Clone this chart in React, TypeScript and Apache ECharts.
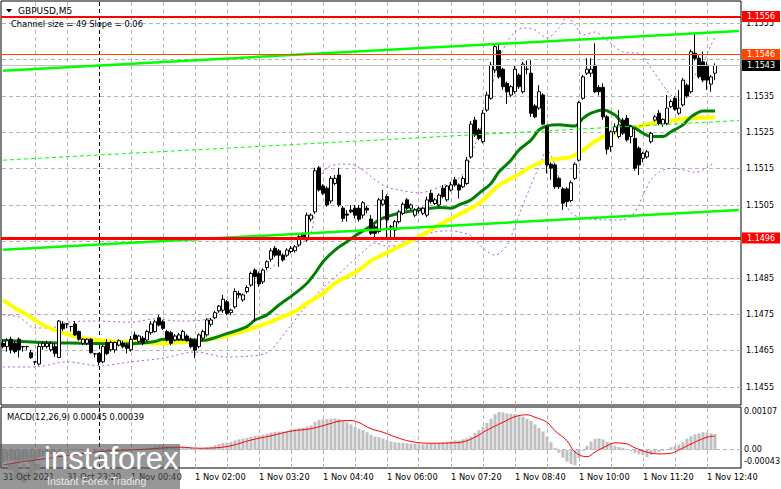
import React, { useEffect, useRef } from 'react';
import * as echarts from 'echarts';

const FONT = 'DejaVu Sans';
const N = 185; // category slots (candles + empty space to the right edge)
const PLOT_LEFT = 1;
const PLOT_RIGHT = 741;
const MAIN_TOP = 1;
const MAIN_BOTTOM = 405;
const MACD_TOP = 407;
const MACD_BOTTOM = 468;

const timeLabels = ['31 Oct 2021', '31 Oct 23:20', '1 Nov 00:40', '1 Nov 02:00', '1 Nov 03:20', '1 Nov 04:40', '1 Nov 06:00', '1 Nov 07:20', '1 Nov 08:40', '1 Nov 10:00', '1 Nov 11:20', '1 Nov 12:40'];
const LABEL_EVERY = 16;
const GRID_EVERY = 8;
const daySeparatorIndex = 24;

const priceTicks = [1.1455, 1.1465, 1.1475, 1.1485, 1.1495, 1.1505, 1.1515, 1.1525, 1.1535, 1.1545, 1.1555];
const priceTickLabels = ['1.1455', '1.1465', '1.1475', '1.1485', '1.1495', '1.1505', '1.1515', '1.1525', '1.1535', '1.1545', '1.1555'];

// [open, high, low, close]
const ohlc: number[][] = [
  [1.14671, 1.14682, 1.14657, 1.14662], [1.14662, 1.14685, 1.14648, 1.14678], [1.14682, 1.14689, 1.14643, 1.14653], [1.14671, 1.14678, 1.14643, 1.14648], [1.14682, 1.14687, 1.14632, 1.14653],
  [1.14662, 1.14664, 1.14648, 1.14661], [1.14662, 1.14664, 1.14653, 1.14662], [1.14645, 1.14653, 1.14628, 1.14632], [1.1462, 1.14622, 1.14611, 1.1462], [1.14614, 1.14671, 1.1461, 1.14662],
  [1.14662, 1.14676, 1.14653, 1.14671], [1.14662, 1.14678, 1.14657, 1.14671], [1.14653, 1.14676, 1.14648, 1.14671], [1.14662, 1.14671, 1.14634, 1.14643], [1.14632, 1.14735, 1.1463, 1.14732],
  [1.14724, 1.14732, 1.14705, 1.14711], [1.14724, 1.14726, 1.14712, 1.14724], [1.14717, 1.14719, 1.14703, 1.14717], [1.14724, 1.14732, 1.14691, 1.14694], [1.14703, 1.14706, 1.14678, 1.14682],
  [1.14671, 1.14685, 1.14666, 1.14682], [1.14671, 1.14685, 1.14666, 1.14682], [1.14682, 1.14685, 1.14643, 1.14645], [1.14642, 1.14644, 1.14632, 1.14642], [1.14643, 1.14645, 1.14611, 1.1462],
  [1.1462, 1.14666, 1.14616, 1.14662], [1.14673, 1.14682, 1.14638, 1.14643], [1.14653, 1.14678, 1.14648, 1.14673], [1.14653, 1.14676, 1.14645, 1.14673], [1.14666, 1.14682, 1.14662, 1.14678],
  [1.14671, 1.14678, 1.14657, 1.14662], [1.14666, 1.14671, 1.14643, 1.14657], [1.14653, 1.14691, 1.14648, 1.14682], [1.14694, 1.14703, 1.1468, 1.14682], [1.14676, 1.14694, 1.14671, 1.14691],
  [1.14685, 1.14691, 1.14666, 1.14671], [1.1468, 1.14708, 1.14676, 1.14703], [1.147, 1.14732, 1.14694, 1.14724], [1.14703, 1.14735, 1.147, 1.1473], [1.14741, 1.14748, 1.14717, 1.14721],
  [1.1473, 1.14735, 1.14708, 1.14712], [1.14703, 1.14708, 1.14676, 1.1468], [1.147, 1.14705, 1.14666, 1.14671], [1.1468, 1.14696, 1.14676, 1.14691], [1.14682, 1.14699, 1.14678, 1.14694],
  [1.14682, 1.14708, 1.14678, 1.14703], [1.14691, 1.14696, 1.14676, 1.14678], [1.14682, 1.14687, 1.14657, 1.14662], [1.1468, 1.14685, 1.1463, 1.14652], [1.14662, 1.14698, 1.14657, 1.14694],
  [1.14685, 1.14708, 1.14676, 1.14703], [1.14694, 1.1474, 1.14689, 1.14735], [1.14723, 1.14741, 1.14717, 1.14735], [1.14741, 1.1476, 1.14737, 1.14755], [1.1476, 1.14776, 1.14755, 1.14773],
  [1.14762, 1.14804, 1.14755, 1.14792], [1.14785, 1.1479, 1.14748, 1.14753], [1.14755, 1.14766, 1.14748, 1.14762], [1.14771, 1.14822, 1.14766, 1.14813], [1.14808, 1.14815, 1.14795, 1.14804],
  [1.1479, 1.14808, 1.14785, 1.14804], [1.14813, 1.1483, 1.14808, 1.14824], [1.14831, 1.14868, 1.14826, 1.14863], [1.14872, 1.14877, 1.1473, 1.14854], [1.14863, 1.14868, 1.14826, 1.14834],
  [1.1484, 1.14877, 1.14834, 1.14872], [1.14879, 1.14899, 1.14872, 1.14895], [1.14902, 1.14932, 1.14895, 1.14925], [1.14932, 1.14938, 1.14908, 1.14913], [1.14925, 1.1493, 1.14881, 1.14913],
  [1.14913, 1.14918, 1.14895, 1.149], [1.14913, 1.14932, 1.14908, 1.14927], [1.14923, 1.14938, 1.14918, 1.14932], [1.14925, 1.14941, 1.1492, 1.14936], [1.14941, 1.14968, 1.14936, 1.14964],
  [1.14971, 1.14975, 1.14955, 1.14959], [1.14955, 1.1503, 1.1495, 1.15023], [1.15012, 1.15028, 1.15005, 1.15023], [1.15032, 1.15153, 1.15026, 1.15145], [1.15153, 1.15158, 1.15088, 1.15092],
  [1.15103, 1.15108, 1.15078, 1.15083], [1.15097, 1.15102, 1.15046, 1.15051], [1.15062, 1.1513, 1.15055, 1.15124], [1.1511, 1.15133, 1.15105, 1.15124], [1.15133, 1.15153, 1.15046, 1.15051],
  [1.15042, 1.15048, 1.15005, 1.15014], [1.15026, 1.15037, 1.15005, 1.15023], [1.15037, 1.15051, 1.15028, 1.15032], [1.15042, 1.15051, 1.15014, 1.15023], [1.15042, 1.15051, 1.15005, 1.15012],
  [1.15023, 1.15062, 1.15014, 1.15057], [1.15042, 1.15048, 1.15028, 1.15037], [1.15012, 1.15023, 1.14968, 1.14973], [1.14991, 1.14996, 1.14959, 1.14973], [1.14978, 1.1507, 1.14973, 1.15065],
  [1.15053, 1.15092, 1.15048, 1.15065], [1.15074, 1.1508, 1.14959, 1.1501], [1.14991, 1.14996, 1.14955, 1.14991], [1.14982, 1.1501, 1.14955, 1.15005], [1.15005, 1.15037, 1.15, 1.15032],
  [1.15028, 1.15058, 1.15023, 1.15053], [1.15065, 1.1507, 1.15037, 1.15042], [1.15042, 1.15055, 1.15037, 1.15051], [1.15023, 1.15042, 1.15018, 1.15037], [1.15037, 1.15046, 1.15028, 1.15042],
  [1.15028, 1.15046, 1.15023, 1.15042], [1.15023, 1.15074, 1.15018, 1.15065], [1.15083, 1.15092, 1.15055, 1.1506], [1.15055, 1.1507, 1.15051, 1.15065], [1.15051, 1.15083, 1.15046, 1.15078],
  [1.15097, 1.15106, 1.15069, 1.15074], [1.15065, 1.15106, 1.1506, 1.15103], [1.15092, 1.15115, 1.15088, 1.15106], [1.1512, 1.15128, 1.15101, 1.15106], [1.15106, 1.1511, 1.15069, 1.15092],
  [1.15101, 1.1513, 1.15097, 1.15124], [1.1511, 1.15183, 1.15106, 1.15174], [1.15183, 1.15282, 1.15178, 1.15273], [1.15284, 1.15293, 1.15238, 1.15243], [1.15257, 1.15262, 1.15229, 1.15234],
  [1.15225, 1.15312, 1.1522, 1.15303], [1.15312, 1.15362, 1.15307, 1.15353], [1.15344, 1.15444, 1.1534, 1.15435], [1.15422, 1.15495, 1.15413, 1.15486], [1.15475, 1.15495, 1.15398, 1.15403],
  [1.15424, 1.15428, 1.15367, 1.15376], [1.15385, 1.1539, 1.15328, 1.15362], [1.15353, 1.1538, 1.15348, 1.15376], [1.15362, 1.15435, 1.15357, 1.15424], [1.15408, 1.15413, 1.1537, 1.15376],
  [1.15362, 1.15444, 1.15357, 1.15438], [1.15424, 1.15448, 1.1541, 1.15424], [1.15413, 1.15448, 1.15293, 1.15303], [1.15323, 1.15328, 1.15289, 1.15293], [1.15317, 1.1538, 1.15312, 1.15362],
  [1.15353, 1.15358, 1.1527, 1.15273], [1.15266, 1.1527, 1.15138, 1.15161], [1.15163, 1.15168, 1.1512, 1.15152], [1.15161, 1.15166, 1.15095, 1.15101], [1.15124, 1.15128, 1.15095, 1.15101],
  [1.15095, 1.151, 1.15037, 1.15056], [1.15095, 1.151, 1.15045, 1.1506], [1.15063, 1.15118, 1.15058, 1.15112], [1.15124, 1.15168, 1.1512, 1.15163], [1.15174, 1.15337, 1.1517, 1.15332],
  [1.15344, 1.15408, 1.1534, 1.15403], [1.15413, 1.15454, 1.15408, 1.15424], [1.15413, 1.15454, 1.15403, 1.15424], [1.15435, 1.15495, 1.15358, 1.15362], [1.15374, 1.1538, 1.15352, 1.15362],
  [1.15374, 1.15385, 1.15285, 1.15293], [1.15293, 1.15298, 1.1519, 1.15204], [1.15211, 1.15256, 1.15197, 1.15252], [1.15252, 1.15275, 1.15245, 1.15266], [1.15239, 1.15312, 1.15234, 1.15271],
  [1.15284, 1.1529, 1.15243, 1.15248], [1.15289, 1.15298, 1.15225, 1.1523], [1.15239, 1.1527, 1.1522, 1.15266], [1.15234, 1.15262, 1.15145, 1.15152], [1.15207, 1.15212, 1.15133, 1.15161],
  [1.15179, 1.15197, 1.15168, 1.15193], [1.15183, 1.15202, 1.15178, 1.15197], [1.15225, 1.15252, 1.1522, 1.15248], [1.15284, 1.15298, 1.1528, 1.15293], [1.15303, 1.15312, 1.1527, 1.15275],
  [1.15273, 1.15289, 1.15266, 1.15286], [1.15275, 1.15353, 1.1527, 1.15317], [1.15321, 1.1534, 1.15317, 1.15335], [1.15344, 1.1535, 1.1531, 1.15314], [1.15303, 1.15367, 1.15298, 1.15317],
  [1.15326, 1.154, 1.15321, 1.15394], [1.1538, 1.15385, 1.15345, 1.1535], [1.15362, 1.15478, 1.15357, 1.15472], [1.15468, 1.15523, 1.15448, 1.15454], [1.15454, 1.15462, 1.15398, 1.15403],
  [1.15444, 1.15472, 1.15388, 1.15394], [1.15435, 1.15444, 1.15367, 1.15394], [1.15383, 1.15408, 1.15362, 1.15403], [1.15413, 1.1544, 1.15394, 1.15434],
];

// moving averages (sampled along the bars)
const fastMaIdx = [0, 10, 20, 30, 34, 38, 40, 44, 48, 50, 55, 61, 63, 66, 69, 73, 76, 78, 80, 83, 86, 89, 92, 94, 99, 104, 109, 112, 114, 117, 119, 122, 124, 127, 129, 132, 134, 136, 139, 143, 145, 147, 150, 153, 155, 158, 160, 162, 165, 167, 170, 172, 175, 178];
const fastMaVal = [1.14679, 1.14673, 1.14671, 1.14669, 1.14671, 1.14676, 1.14682, 1.14682, 1.1468, 1.14679, 1.14694, 1.14717, 1.14735, 1.14749, 1.14776, 1.14808, 1.14836, 1.14863, 1.14895, 1.14927, 1.1495, 1.14973, 1.14993, 1.1501, 1.15028, 1.15037, 1.15044, 1.15042, 1.15051, 1.15065, 1.15083, 1.1511, 1.15142, 1.15174, 1.15202, 1.15229, 1.15257, 1.15268, 1.15271, 1.15268, 1.15289, 1.15303, 1.15312, 1.15298, 1.15275, 1.15262, 1.15248, 1.15239, 1.15239, 1.15252, 1.15271, 1.15293, 1.15309, 1.15309];
const slowMaIdx = [0, 3, 6, 10, 14, 18, 22, 28, 34, 40, 46, 50, 55, 61, 66, 69, 73, 76, 80, 83, 86, 89, 92, 94, 99, 104, 109, 114, 119, 124, 129, 132, 136, 139, 142, 145, 149, 152, 155, 159, 162, 166, 169, 172, 178];
const slowMaVal = [1.1479, 1.14768, 1.14749, 1.14721, 1.14703, 1.1469, 1.14682, 1.14675, 1.14673, 1.14671, 1.14675, 1.1468, 1.14689, 1.14707, 1.14726, 1.1474, 1.14758, 1.14781, 1.14808, 1.14836, 1.14854, 1.14872, 1.14898, 1.14909, 1.14936, 1.14964, 1.14996, 1.15025, 1.15055, 1.15105, 1.15135, 1.15156, 1.15174, 1.15178, 1.15183, 1.15202, 1.15232, 1.15245, 1.15255, 1.15266, 1.15275, 1.1528, 1.15286, 1.15289, 1.15292];

// band lines (purple dotted)
const bandUpIdx = [0, 4, 8, 12, 16, 24, 32, 38, 44, 50, 55, 59, 63, 67, 71, 74, 77, 78, 79, 81, 84, 87, 90, 93, 96, 99, 104, 109, 114, 116, 118, 120, 122, 124, 126, 128, 130, 133, 136, 139, 141, 143, 145, 148, 151, 155, 159, 162, 165, 167, 169, 171, 173, 175, 177, 178];
const bandUpVal = [1.14749, 1.14743, 1.14713, 1.14713, 1.14729, 1.14732, 1.14729, 1.14738, 1.14732, 1.14735, 1.14762, 1.14798, 1.14837, 1.14878, 1.14913, 1.14941, 1.14974, 1.15051, 1.1512, 1.15152, 1.15163, 1.15163, 1.15147, 1.1512, 1.151, 1.15092, 1.15084, 1.151, 1.15125, 1.15152, 1.15216, 1.15284, 1.15367, 1.15449, 1.15499, 1.15526, 1.15537, 1.15532, 1.1551, 1.15537, 1.15567, 1.15545, 1.15518, 1.15526, 1.15504, 1.15471, 1.15468, 1.15427, 1.1538, 1.15353, 1.15339, 1.15375, 1.15408, 1.15441, 1.1549, 1.15512];
const bandLoIdx = [0, 8, 16, 24, 32, 40, 48, 56, 62, 65, 67, 71, 75, 80, 85, 90, 93, 96, 99, 102, 105, 108, 111, 114, 117, 120, 123, 126, 129, 132, 134, 136, 138, 140, 142, 145, 150, 155, 158, 160, 162, 164, 167, 170, 173, 175, 177, 178];
const bandLoVal = [1.14606, 1.14606, 1.1462, 1.14609, 1.1462, 1.1463, 1.14647, 1.14633, 1.14636, 1.14641, 1.14652, 1.14707, 1.14762, 1.14823, 1.14872, 1.14922, 1.14946, 1.14938, 1.14938, 1.14952, 1.14966, 1.14977, 1.1498, 1.14977, 1.14966, 1.14933, 1.14913, 1.14941, 1.15023, 1.15106, 1.15155, 1.15202, 1.15161, 1.15078, 1.15029, 1.15015, 1.1501, 1.1501, 1.15032, 1.15078, 1.1512, 1.15141, 1.15152, 1.15147, 1.15141, 1.15147, 1.15161, 1.15169];

// regression channel (end points)
const channelIdx = [0, 184];
const channelUpper = [1.1542, 1.15529];
const channelMid = [1.15174, 1.15283];
const channelLower = [1.14928, 1.15037];
const channelSlopeText = '0.06';

// horizontal levels (index 2 is the bid line)
const levelValues = [1.15569, 1.15464, 1.15434, 1.1496];
const levelLabels = ['1.1556', '1.1546', '1.1543', '1.1496'];
const levelLineColors = ['#ff0000', '#ff4500', 'rgba(0,0,0,0)', '#ff0000'];
const levelTagColors = ['#ff0000', '#ff4500', '#000000', '#ff0000'];
const levelWidths = [2, 1, 1, 3];
const bidLineColor = '#c0c0c0';

// MACD(12,26,9)
const macdHist = [
  -0.00035, -0.00032, -0.0003, -0.00028, -0.00027, -0.00025, -0.00023, -0.00023, -0.00024, -0.0002,
  -0.00017, -0.00014, -0.00012, -0.00011, -0.00004, -0.00001, 0.00001, 0.00003, 0.00003, 0.00002,
  0.00002, 0.00002, 0, -0.00002, -0.00004, -0.00003, -0.00004, -0.00003, -0.00002, -0.00001,
  -0.00001, -0.00002, 0, 0.00001, 0.00002, 0.00002, 0.00004, 0.00007, 0.0001, 0.00012,
  0.00012, 0.0001, 0.00008, 0.00008, 0.00008, 0.00009, 0.00008, 0.00006, 0.00004, 0.00003,
  0.00004, 0.00007, 0.00009, 0.00013, 0.00017, 0.0002, 0.00021, 0.00023, 0.00027, 0.0003,
  0.00032, 0.00034, 0.00037, 0.0004, 0.00041, 0.00043, 0.00046, 0.00049, 0.00051, 0.00052,
  0.00052, 0.00054, 0.00057, 0.00059, 0.00062, 0.00062, 0.00066, 0.00069, 0.00079, 0.00085,
  0.00086, 0.00087, 0.00088, 0.00089, 0.00087, 0.00082, 0.00078, 0.00072, 0.00066, 0.0006,
  0.00056, 0.0005, 0.00043, 0.00038, 0.00036, 0.00032, 0.00028, 0.00024, 0.00022, 0.00021,
  0.0002, 0.00019, 0.00018, 0.00017, 0.00016, 0.00016, 0.00017, 0.00018, 0.00018, 0.0002,
  0.00021, 0.00023, 0.00025, 0.00027, 0.00027, 0.0003, 0.00033, 0.00038, 0.00048, 0.00056,
  0.00065, 0.00076, 0.00088, 0.00101, 0.00107, 0.00106, 0.00103, 0.00102, 0.00101, 0.00097,
  0.00094, 0.00088, 0.00082, 0.00072, 0.00062, 0.00052, 0.00038, 0.00022, 0.00006, -0.00008,
  -0.00022, -0.00033, -0.0004, -0.00043, -0.00022, -0.00002, 0.00012, 0.00024, 0.00031, 0.00033,
  0.0003, 0.00023, 0.00018, 0.00012, 0.00008, 0.00006, 0.00003, -0.00003, -0.00008, -0.00012,
  -0.00015, -0.0002, -0.00014, -0.00008, -0.00005, -0.00002, 0.00003, 0.00008, 0.00011, 0.00015,
  0.00022, 0.00032, 0.00039, 0.00044, 0.00047, 0.0005, 0.00049, 0.00047, 0.00045,
];
const signalIdx = [0, 7, 24, 37, 44, 49, 53, 57, 62, 67, 72, 77, 82, 84, 87, 89, 92, 95, 98, 102, 107, 112, 115, 118, 121, 125, 128, 131, 133, 136, 138, 141, 143, 146, 148, 151, 153, 156, 158, 161, 164, 167, 169, 172, 176, 178];
const signalVal = [-0.00042, -0.0003, -0.00005, 0.00003, 0.00008, 0.00005, 0.00006, 0.00012, 0.00028, 0.0004, 0.00053, 0.0006, 0.00075, 0.00081, 0.00083, 0.00077, 0.0006, 0.0005, 0.00037, 0.00024, 0.00019, 0.0002, 0.00023, 0.00036, 0.00056, 0.00078, 0.00094, 0.00099, 0.00092, 0.00078, 0.00054, 0.00026, -0.00006, -0.00019, -0.00006, 0.00012, 0.0002, 0.00017, 0.00006, -0.00006, -0.00011, -0.00009, 0, 0.00017, 0.00036, 0.00039];
const macdAxisValues = [0.00107, 0, -0.00043];
const macdAxisLabels = ['0.00107', '0.00', '-0.00043'];

const CLEAR = 'rgba(0,0,0,0)';
const GRID_COLOR = '#b4b4b4';
const DASH_ON = 4;
const DASH_OFF = 3;

function sparse(idx: number[], vals: number[]) {
  const a: (number | null)[] = new Array(N).fill(null);
  idx.forEach((k, j) => { a[k] = vals[j]; });
  return a;
}

function buildOption(): any {
  const categories = Array.from({ length: N }, (_, i) => String(i));
  const nulls = new Array(N).fill(null);

  const priceLabelItems = priceTicks
    .map((v, k) => ({ v, k }))
    .filter(({ v }) => levelValues.every((lv) => Math.abs(lv - v) > 0.00015))
    .map(({ v, k }) => ({
      yAxis: v,
      lineStyle: { color: CLEAR, width: 1 },
      label: { show: true, position: 'end', formatter: priceTickLabels[k], color: '#000', fontSize: 8, fontFamily: FONT, distance: 5 },
    }));

  const levels = levelValues.map((v, k) => ({
    yAxis: v,
    lineStyle: { color: levelLineColors[k], type: 'solid', width: levelWidths[k] },
    label: {
      show: true, position: 'end', formatter: levelLabels[k], color: '#fff', fontSize: 8, fontFamily: FONT,
      backgroundColor: levelTagColors[k], padding: [2, 5, 1, 5], distance: 1,
    },
  }));

  const macdLabels = macdAxisValues.map((v, k) => ({
    yAxis: v,
    lineStyle: { color: CLEAR, width: 1 },
    label: { show: true, position: 'end', formatter: macdAxisLabels[k], color: '#000', fontSize: 8, fontFamily: FONT, distance: 3, offset: v < 0 ? [0, -4] : [0, 0] },
  }));

  const lineBase = { type: 'line', showSymbol: false, symbol: 'none', connectNulls: true, silent: true, xAxisIndex: 0, yAxisIndex: 0 };
  const ml = (z: number, data: any[]) => ({ silent: true, z, precision: 8, symbol: ['none', 'none'], animation: false, data });

  return {
    animation: false,
    backgroundColor: '#ffffff',
    textStyle: { fontFamily: FONT },
    grid: [
      { left: PLOT_LEFT, top: MAIN_TOP, width: PLOT_RIGHT - PLOT_LEFT, height: MAIN_BOTTOM - MAIN_TOP, show: true, borderColor: '#000', borderWidth: 1, backgroundColor: CLEAR },
      { left: PLOT_LEFT, top: MACD_TOP, width: PLOT_RIGHT - PLOT_LEFT, height: MACD_BOTTOM - MACD_TOP, show: true, borderColor: '#000', borderWidth: 1, backgroundColor: CLEAR },
    ],
    xAxis: [
      { type: 'category', gridIndex: 0, data: categories, boundaryGap: true, axisLine: { show: false }, axisTick: { show: false }, axisLabel: { show: false }, splitLine: { show: false } },
      {
        type: 'category', gridIndex: 1, data: categories, boundaryGap: true,
        axisLine: { show: false },
        axisTick: { show: true, interval: LABEL_EVERY - 1, alignWithLabel: true, length: 3, lineStyle: { color: '#000' } },
        axisLabel: {
          interval: LABEL_EVERY - 1, align: 'left', color: '#000', fontSize: 8.3, fontFamily: FONT, margin: 5,
          formatter: (_v: string, idx: number) => timeLabels[idx / LABEL_EVERY] ?? '',
        },
        splitLine: { show: false },
      },
    ],
    yAxis: [
      { type: 'value', gridIndex: 0, min: 1.145014, max: 1.156113, show: false },
      { type: 'value', gridIndex: 1, min: -0.000507, max: 0.0012108, show: false },
    ],
    series: [
      { type: 'line', xAxisIndex: 0, yAxisIndex: 0, data: nulls, silent: true, z: 1, markLine: ml(1, priceLabelItems) },
      { ...lineBase, data: sparse(bandUpIdx, bandUpVal), z: 2, lineStyle: { color: '#b455d8', width: 1, type: [2, 3] }, smooth: 0.3 },
      { ...lineBase, data: sparse(bandLoIdx, bandLoVal), z: 2, lineStyle: { color: '#b455d8', width: 1, type: [2, 3] }, smooth: 0.3 },
      { ...lineBase, data: sparse(slowMaIdx, slowMaVal), z: 2, lineStyle: { color: '#ffff00', width: 4 }, smooth: 0.3 },
      { ...lineBase, data: sparse(fastMaIdx, fastMaVal), z: 3, lineStyle: { color: '#008000', width: 3 }, smooth: 0.3 },
      {
        type: 'candlestick', xAxisIndex: 0, yAxisIndex: 0, silent: true, z: 4, barWidth: 3,
        data: ohlc.map(([o, h, l, c]) => [o, c, l, h]),
        itemStyle: { color: '#ffffff', color0: '#000000', borderColor: '#000000', borderColor0: '#000000', borderWidth: 1 },
      },
      { ...lineBase, data: sparse(channelIdx, channelUpper), z: 6, lineStyle: { color: '#00ff00', width: 2.5 } },
      { ...lineBase, data: sparse(channelIdx, channelLower), z: 6, lineStyle: { color: '#00ff00', width: 2.5 } },
      { ...lineBase, data: sparse(channelIdx, channelMid), z: 6, lineStyle: { color: '#00ff00', width: 1, type: [4, 3] } },
      { type: 'line', xAxisIndex: 0, yAxisIndex: 0, data: nulls, silent: true, z: 10, markLine: ml(10, levels) },
      { type: 'line', xAxisIndex: 1, yAxisIndex: 1, data: nulls, silent: true, z: 1, markLine: ml(1, macdLabels) },
      { type: 'bar', xAxisIndex: 1, yAxisIndex: 1, data: macdHist, barWidth: 3, silent: true, z: 2, itemStyle: { color: '#c0c0c0' } },
      {
        type: 'line', xAxisIndex: 1, yAxisIndex: 1, data: sparse(signalIdx, signalVal), connectNulls: true, showSymbol: false, symbol: 'none',
        smooth: 0.4, silent: true, z: 3, lineStyle: { color: '#ff0000', width: 1 },
      },
    ],
  };
}

function overlayGraphics(chart: any): any[] {
  const toPx = (g: number, i: number, v: number) => chart.convertToPixel({ xAxisIndex: g, yAxisIndex: g }, [i, v]) as number[];
  const els: any[] = [];
  // dashed grid lines drawn as small filled 1px rectangles (pixel aligned)
  const hDash = (y: number, color: string) => {
    const row = Math.floor(y);
    for (let x = PLOT_LEFT + 1; x < PLOT_RIGHT; x += DASH_ON + DASH_OFF) {
      els.push({ type: 'rect', z: 1, silent: true, shape: { x, y: row, width: Math.min(DASH_ON, PLOT_RIGHT - x), height: 1 }, style: { fill: color } });
    }
  };
  const vDash = (x: number, y1: number, y2: number, color: string) => {
    const col = Math.floor(x);
    for (let y = y1 + 1; y < y2; y += DASH_ON + DASH_OFF) {
      els.push({ type: 'rect', z: 1, silent: true, shape: { x: col, y, width: 1, height: Math.min(DASH_ON, y2 - y) }, style: { fill: color } });
    }
  };

  priceTicks.forEach((v) => hDash(toPx(0, 0, v)[1], GRID_COLOR));
  hDash(toPx(1, 0, 0)[1], GRID_COLOR);
  for (let i = GRID_EVERY; i <= 176; i += GRID_EVERY) {
    const x = toPx(0, i, 0)[0];
    const color = i === daySeparatorIndex ? '#000000' : GRID_COLOR;
    vDash(x, MAIN_TOP, MAIN_BOTTOM, color);
    vDash(x, MACD_TOP, MACD_BOTTOM, color);
  }
  // bid line (solid)
  const bidRow = Math.floor(toPx(0, 0, levelValues[2])[1]);
  els.push({ type: 'rect', z: 5, silent: true, shape: { x: PLOT_LEFT + 1, y: bidRow, width: PLOT_RIGHT - PLOT_LEFT - 1, height: 1 }, style: { fill: bidLineColor } });

  const channelSize = Math.round((channelUpper[0] - channelLower[0]) * 10000);
  const macdTitle = `MACD(12,26,9) ${macdHist[macdHist.length - 1].toFixed(5)} ${signalVal[signalVal.length - 1].toFixed(5)}`;
  const txt = (x: number, y: number, text: string, font: string, fill: string, z: number, va = 'middle') => ({
    type: 'text', z, x, y, silent: true,
    style: { text, fill, font, align: 'left', verticalAlign: va, textAlign: 'left', textVerticalAlign: va },
  });

  els.push({ type: 'polygon', z: 20, silent: true, shape: { points: [[6, 9], [12, 9], [9, 12.5]] }, style: { fill: '#000' } });
  els.push(txt(18, 10.5, 'GBPUSD,M5', `9px "${FONT}"`, '#000', 20));
  els.push(txt(11, 24, `Channel size = ${channelSize} Slope = ${channelSlopeText}`, `8.3px "${FONT}"`, '#000', 20));
  els.push(txt(7, 417, macdTitle, `8.3px "${FONT}"`, '#000', 20));

  // watermark
  els.push({ type: 'rect', z: 100, silent: true, shape: { x: 0, y: 444, width: 180, height: 45 }, style: { fill: 'rgba(85,85,85,0.62)' } });
  const teeth = Array.from({ length: 8 }, (_, k) => ({
    type: 'rect', shape: { x: -3, y: -16, width: 6, height: 6 }, rotation: (k * Math.PI) / 4, style: { fill: '#d8d8d8' },
  }));
  els.push({
    type: 'group', z: 101, x: 24, y: 467, silent: true,
    children: [
      { type: 'ring', shape: { cx: 0, cy: 0, r: 12, r0: 6 }, style: { fill: '#d8d8d8' } },
      ...teeth,
      { type: 'circle', shape: { cx: 0, cy: -1, r: 2.5 }, style: { fill: '#d8d8d8' } },
    ],
  });
  els.push(txt(44, 474, 'instaforex', '31px "Liberation Sans"', '#ffffff', 101, 'bottom'));
  els.push(txt(47, 481, 'Instant Forex Trading', '10.5px "Liberation Sans"', '#e8e8e8', 101));
  return els;
}

export default function App() {
  const ref = useRef<HTMLDivElement>(null);
  useEffect(() => {
    document.body.style.margin = '0';
    const chart = echarts.init(ref.current!, null, { renderer: 'svg' });
    chart.setOption(buildOption());
    chart.setOption({ graphic: overlayGraphics(chart) });
    return () => chart.dispose();
  }, []);
  return <div ref={ref} style={{ width: 781, height: 489 }} />;
}
